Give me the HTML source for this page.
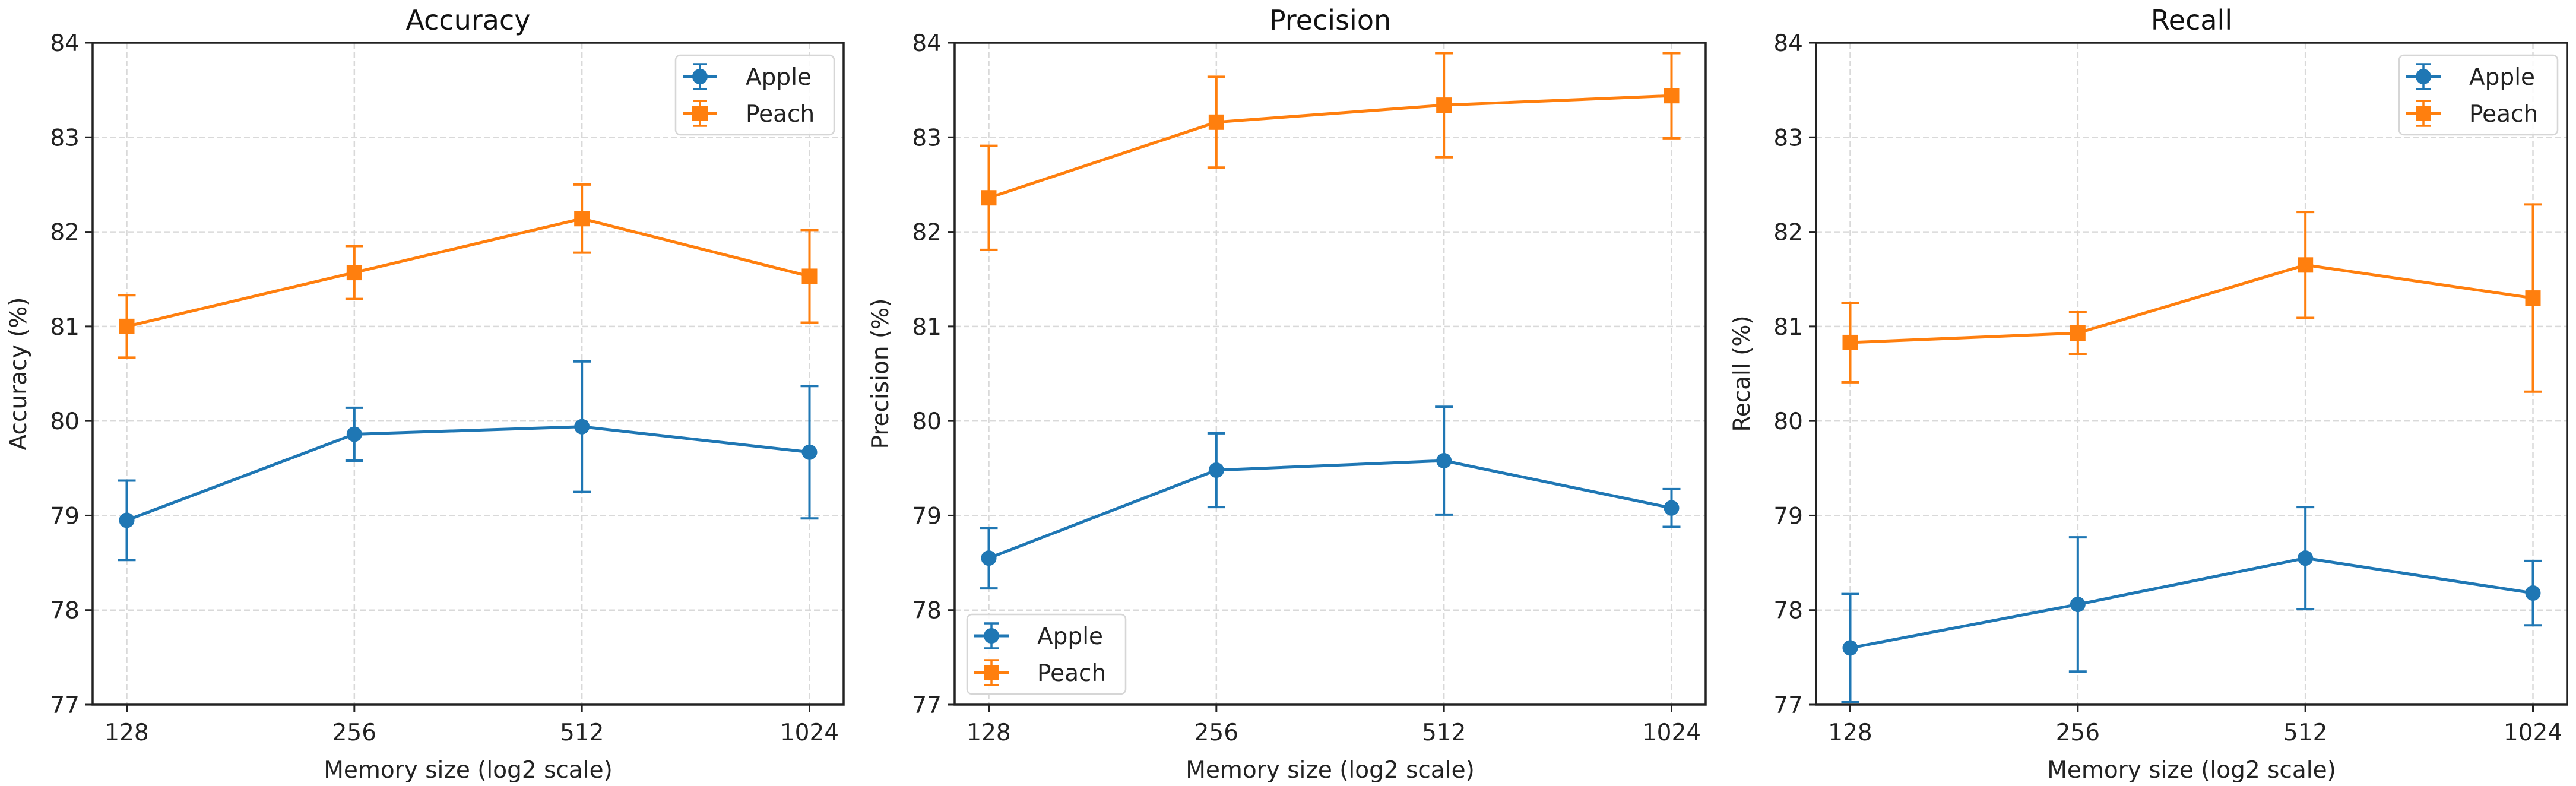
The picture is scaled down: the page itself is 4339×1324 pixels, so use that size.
<!DOCTYPE html>
<html><head><meta charset="utf-8">
<style>
html,body{margin:0;padding:0;background:#fff;}
svg{display:block;font-family:"DejaVu Sans","Liberation Sans",sans-serif;}
</style></head>
<body>
<svg id="chart" width="4339" height="1324" viewBox="0 0 4339 1324" xmlns="http://www.w3.org/2000/svg"></svg>
<script>
const categories = ["128","256","512","1024"];
const yTicks = [77,78,79,80,81,82,83,84];
const titles = ["Accuracy","Precision","Recall"];
const yLabels = ["Accuracy (%)","Precision (%)","Recall (%)"];
const appleAcc = [78.95,79.86,79.94,79.67];
const appleAccErr = [0.42,0.28,0.69,0.70];
const peachAcc = [81.0,81.57,82.14,81.53];
const peachAccErr = [0.33,0.28,0.36,0.49];
const applePrec = [78.55,79.48,79.58,79.08];
const applePrecErr = [0.32,0.39,0.57,0.20];
const peachPrec = [82.36,83.16,83.34,83.44];
const peachPrecErr = [0.55,0.48,0.55,0.45];
const appleRec = [77.60,78.06,78.55,78.18];
const appleRecErr = [0.57,0.71,0.54,0.34];
const peachRec = [80.83,80.93,81.65,81.30];
const peachRecErr = [0.42,0.22,0.56,0.99];

const NS="http://www.w3.org/2000/svg";
const svg=document.getElementById('chart');
function mk(tag,attrs,parent){const e=document.createElementNS(NS,tag);for(const k in attrs)e.setAttribute(k,attrs[k]);(parent||svg).appendChild(e);return e;}

const panels=[
 {left:156,legend:"tr",apple:appleAcc,appleErr:appleAccErr,peach:peachAcc,peachErr:peachAccErr},
 {left:1608,legend:"bl",apple:applePrec,appleErr:applePrecErr,peach:peachPrec,peachErr:peachPrecErr},
 {left:3059,legend:"tr",apple:appleRec,appleErr:appleRecErr,peach:peachRec,peachErr:peachRecErr}
];
const W=1265, TOP=72, BOT=1187, YMIN=77, YMAX=84;
const BLUE="#1f77b4", ORANGE="#ff7f0e";

panels.forEach((p,pi)=>{
  const g=mk('g',{});
  
  
  const L=p.left,R=L+W;
  const n=categories.length;
  const unit=W/((n-1)*1.1);
  const xs=i=>L+unit*(0.05*(n-1))+i*unit;
  const ys=v=>BOT-(v-YMIN)/(YMAX-YMIN)*(BOT-TOP);
  // grid
  categories.forEach((c,i)=>{
    const l=mk('line',{x1:xs(i),x2:xs(i),y1:TOP,y2:BOT,stroke:"#d9d9d9","stroke-width":2.5,"stroke-dasharray":"10,5"},g);
    
    
  });
  yTicks.forEach(t=>{
    const l=mk('line',{x1:L,x2:R,y1:ys(t),y2:ys(t),stroke:"#d9d9d9","stroke-width":2.5,"stroke-dasharray":"10,5"},g);
    
    
  });
  // ticks & labels
  yTicks.forEach(t=>{
    mk('line',{x1:L-12,x2:L,y1:ys(t),y2:ys(t),stroke:"#222","stroke-width":3},g);
    const tx=mk('text',{x:L-22,y:ys(t)+14,"text-anchor":"end","font-size":39,fill:"#222"},g);
    tx.textContent=t;
    
    
  });
  categories.forEach((c,i)=>{
    mk('line',{x1:xs(i),x2:xs(i),y1:BOT,y2:BOT+12,stroke:"#222","stroke-width":3},g);
    const tx=mk('text',{x:xs(i),y:BOT+60,"text-anchor":"middle","font-size":39,fill:"#222"},g);
    tx.textContent=c;
    
    
  });
  const xl=mk('text',{x:L+W/2,y:1310,"text-anchor":"middle","font-size":39,fill:"#222"},g);
  xl.textContent="Memory size (log2 scale)";
  
  
  const yl=mk('text',{x:0,y:0,"text-anchor":"middle","font-size":39,fill:"#222",transform:`translate(${L-112},${(TOP+BOT)/2}) rotate(-90)`},g);
  yl.textContent=yLabels[pi];
  
  
  const tt=mk('text',{x:L+W/2,y:50,"text-anchor":"middle","font-size":46,fill:"#111"},g);
  tt.textContent=titles[pi];
  
  
  // series
  const series=[{name:"apple",vals:p.apple,err:p.appleErr,col:BLUE,mark:"circle"},{name:"peach",vals:p.peach,err:p.peachErr,col:ORANGE,mark:"square"}];
  series.forEach(s=>{
    const sg=mk('g',{},g);
    
    
    const pts=s.vals.map((v,i)=>xs(i)+','+ys(v)).join(' ');
    const pl=mk('polyline',{points:pts,fill:"none",stroke:s.col,"stroke-width":5},sg);
    
    
    s.vals.forEach((v,i)=>{
      const x=xs(i),y1=ys(v+s.err[i]),y2=ys(v-s.err[i]);
      const eb=mk('path',{d:`M${x},${y1}V${y2}M${x-15},${y1}H${x+15}M${x-15},${y2}H${x+15}`,stroke:s.col,"stroke-width":4,fill:"none"},sg);
      
      
      let m;
      if(s.mark==="circle") m=mk('circle',{cx:x,cy:ys(v),r:13,fill:s.col},sg);
      else m=mk('rect',{x:x-13,y:ys(v)-13,width:26,height:26,fill:s.col},sg);
      
      
    });
  });
  // frame
  const fr=mk('rect',{x:L,y:TOP,width:W,height:BOT-TOP,fill:"none",stroke:"#222","stroke-width":3.5},g);
  
  
  // legend
  const lw=267,lh=134;
  const lx=p.legend==="tr"?R-lw-16:L+21;
  const ly=p.legend==="tr"?TOP+21:BOT-lh-18;
  const lg=mk('g',{},g);
  
  
  mk('rect',{x:lx,y:ly,width:lw,height:lh,rx:8,fill:"#fff","fill-opacity":0.85,stroke:"#d6d6d6","stroke-width":2.5},lg);
  series.forEach((s,k)=>{
    const ey=ly+36+k*62, ex=lx+41;
    const le=mk('g',{},lg);
    
    
    mk('line',{x1:lx+12,x2:lx+70,y1:ey,y2:ey,stroke:s.col,"stroke-width":5},le);
    mk('path',{d:`M${ex},${ey-21}V${ey+21}M${ex-12},${ey-21}H${ex+12}M${ex-12},${ey+21}H${ex+12}`,stroke:s.col,"stroke-width":3.5,fill:"none"},le);
    if(s.mark==="circle") mk('circle',{cx:ex,cy:ey,r:13,fill:s.col},le);
    else mk('rect',{x:ex-13,y:ey-13,width:26,height:26,fill:s.col},le);
    const t=mk('text',{x:lx+118,y:ey+14,"font-size":39,fill:"#222"},le);
    t.textContent=s.name==="apple"?"Apple":"Peach";
  });
});
</script>
</body></html>
